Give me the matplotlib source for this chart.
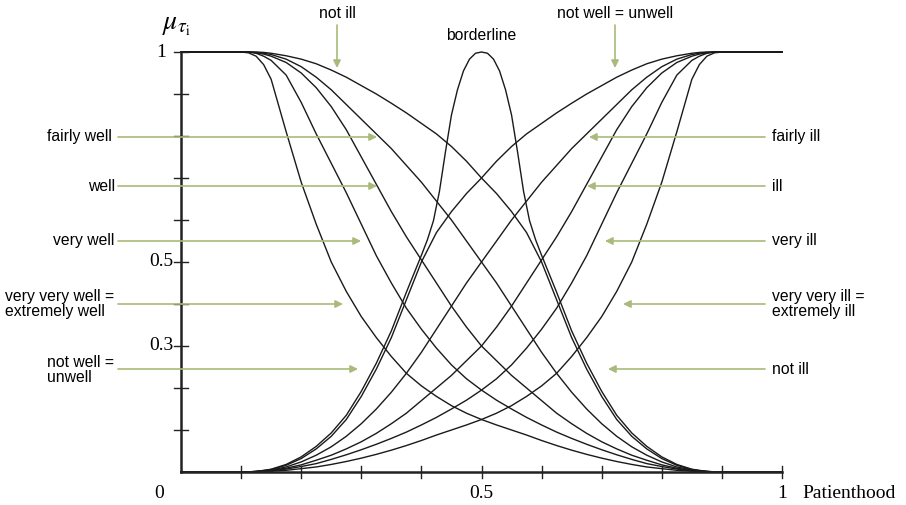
import matplotlib.pyplot as plt

# membership grades over patienthood; the "well" family mirrors the "ill" family
x_grid = [0.100, 0.1125, 0.125, 0.1375, 0.150, 0.175, 0.200, 0.225, 0.250,
          0.275, 0.300, 0.325, 0.350, 0.375, 0.400, 0.425, 0.450, 0.475,
          0.500, 0.525, 0.550, 0.575, 0.600, 0.625, 0.650, 0.675, 0.700,
          0.725, 0.750, 0.775, 0.800, 0.825, 0.850, 0.8625, 0.875, 0.8875,
          0.900]

not_well = [0.0, 0.0003, 0.0015, 0.0035, 0.006, 0.016, 0.032, 0.055, 0.085,
            0.125, 0.180, 0.245, 0.320, 0.410, 0.500, 0.570, 0.620, 0.663,
            0.700, 0.740, 0.775, 0.805, 0.830, 0.855, 0.878, 0.900, 0.920,
            0.940, 0.957, 0.972, 0.983, 0.991, 0.997, 0.999, 1.0, 1.0,
            1.0]
fairly_ill = [0.0, 0.0002, 0.001, 0.0025, 0.005, 0.012, 0.024, 0.040, 0.060,
              0.085, 0.115, 0.150, 0.190, 0.235, 0.285, 0.340, 0.395, 0.450,
              0.500, 0.550, 0.600, 0.645, 0.690, 0.730, 0.770, 0.805, 0.840,
              0.875, 0.910, 0.940, 0.965, 0.983, 0.994, 0.997, 0.999, 1.0,
              1.0]
ill = [0.0, 0.0001, 0.001, 0.002, 0.004, 0.009, 0.017, 0.028, 0.040,
       0.055, 0.072, 0.092, 0.115, 0.140, 0.170, 0.200, 0.230, 0.265,
       0.300, 0.345, 0.395, 0.450, 0.505, 0.560, 0.620, 0.685, 0.750,
       0.815, 0.870, 0.915, 0.950, 0.975, 0.990, 0.995, 0.998, 1.0,
       1.0]
very_ill = [0.0, 0.0001, 0.0005, 0.0015, 0.003, 0.007, 0.013, 0.020, 0.030,
            0.041, 0.053, 0.066, 0.080, 0.095, 0.112, 0.130, 0.150, 0.171,
            0.195, 0.222, 0.255, 0.295, 0.340, 0.390, 0.450, 0.515, 0.590,
            0.665, 0.735, 0.805, 0.880, 0.945, 0.980, 0.990, 0.997, 1.0,
            1.0]
very_very_ill = [0.0, 0.0, 0.0003, 0.001, 0.002, 0.004, 0.008, 0.012, 0.018,
                 0.025, 0.033, 0.042, 0.052, 0.063, 0.075, 0.088, 0.100, 0.112,
                 0.125, 0.140, 0.158, 0.180, 0.205, 0.235, 0.275, 0.320, 0.370,
                 0.430, 0.500, 0.590, 0.690, 0.810, 0.935, 0.970, 0.990, 0.998,
                 1.0]

# borderline hugs the not-well curve on its way up, then peaks at 0.5
border_x = [0.100, 0.1125, 0.125, 0.1375, 0.150, 0.175, 0.200, 0.225, 0.250,
            0.275, 0.300, 0.325, 0.350, 0.375, 0.400, 0.410, 0.420, 0.430,
            0.440, 0.450, 0.460, 0.470, 0.480, 0.490, 0.500]
border_y = [0.0, 0.0003, 0.0016, 0.0038, 0.0066, 0.018, 0.036, 0.061, 0.093,
            0.135, 0.192, 0.259, 0.336, 0.428, 0.516, 0.553, 0.598, 0.668,
            0.762, 0.850, 0.910, 0.955, 0.983, 0.997, 1.0]

ill_family = [not_well, fairly_ill, ill, very_ill, very_very_ill]

# (text, text left x, text y, arrow tail x, arrow tip x, arrow y)
left_labels = [
    ('fairly well', 47, 137, 118, 377, 137),
    ('well', 88, 186, 118, 377, 186),
    ('very well', 53, 241, 118, 361, 241),
    ('very very well =\nextremely well', 5, 304, 118, 343, 304),
    ('not well =\nunwell', 47, 370, 118, 358, 369),
]
right_labels = [
    ('fairly ill', 772, 137, 765, 589, 137),
    ('ill', 772, 186, 765, 587, 186),
    ('very ill', 772, 241, 765, 605, 241),
    ('very very ill =\nextremely ill', 772, 304, 765, 623, 304),
    ('not ill', 772, 369, 765, 608, 369),
]
top_labels = [
    ('not ill', 337, 13, 25, 68),
    ('not well = unwell', 615, 13, 25, 68),
]

ARROW = '#a9ba7c'
W, H = 906, 505
X0, X1, Y0, Y1 = 181, 782, 472, 52


def px(x):
    return (x - X0) / (X1 - X0)


def py(y):
    return (Y0 - y) / (Y0 - Y1)


plt.rcParams['mathtext.fontset'] = 'stix'
fig = plt.figure(figsize=(W / 100, H / 100), dpi=100)
ax = fig.add_axes([X0 / W, (H - Y0) / H, (X1 - X0) / W, (Y0 - Y1) / H])
ax.set_xlim(0, 1)
ax.set_ylim(0, 1)
ax.axis('off')

# ill family rises, well family is its mirror image
for ys in ill_family:
    ax.plot([0] + x_grid + [1], [0] + ys + [1], color='#1a1a1a', lw=1.0,
            clip_on=False)
    ax.plot([1] + [1 - v for v in x_grid] + [0], [0] + ys + [1],
            color='#1a1a1a', lw=1.0, clip_on=False)
ax.plot(border_x + [1 - v for v in border_x[::-1]],
        border_y + border_y[::-1], color='#1a1a1a', lw=1.0, clip_on=False)

# axes with crossing ticks
ax.plot([0, 1], [0, 0], color='#222222', lw=1.8, clip_on=False)
ax.plot([0, 0], [0, 1], color='#222222', lw=1.8, clip_on=False)
for t in range(1, 10):
    ax.plot([t / 10, t / 10], [-0.014, 0.014], color='#222222', lw=1.0,
            clip_on=False)
    ax.plot([-0.011, 0.011], [t / 10, t / 10], color='#222222', lw=1.0,
            clip_on=False)
ax.plot([1, 1], [-0.014, 0.014], color='#222222', lw=1.0, clip_on=False)
ax.plot([-0.011, 0.011], [1, 1], color='#222222', lw=1.0, clip_on=False)

serif = 'Liberation Serif'
sans = 'Liberation Sans'
for val, txt in [(1.0, '1'), (0.5, '0.5'), (0.3, '0.3')]:
    ax.text(px(161), val, txt, family=serif, fontsize=14, ha='center',
            va='center')
ax.text(px(159), py(493), '0', family=serif, fontsize=14, ha='center',
        va='center')
ax.text(0.5, py(493), '0.5', family=serif, fontsize=14, ha='center',
        va='center')
ax.text(1.0, py(493), '1', family=serif, fontsize=14, ha='center',
        va='center')
ax.text(px(802), py(494), 'Patienthood', family=serif, fontsize=14,
        ha='left', va='center')
ax.text(px(162), py(24), r'$\mu_{\tau_{\rm i}}$', fontsize=20, ha='left',
        va='center')

arrowprops = dict(arrowstyle='-|>', color=ARROW, lw=1.2, mutation_scale=11,
                  shrinkA=0, shrinkB=0)
for txt, tx, ty, ax0, ax1, ay in left_labels:
    ax.text(px(tx), py(ty), txt, family=sans, fontsize=11.3, ha='left',
            va='center', linespacing=1.0)
    ax.annotate('', xy=(px(ax1), py(ay)), xytext=(px(ax0), py(ay)),
                arrowprops=arrowprops, annotation_clip=False)
for txt, tx, ty, ax0, ax1, ay in right_labels:
    ax.text(px(tx), py(ty), txt, family=sans, fontsize=11.3, ha='left',
            va='center', linespacing=1.0)
    ax.annotate('', xy=(px(ax1), py(ay)), xytext=(px(ax0), py(ay)),
                arrowprops=arrowprops, annotation_clip=False)
for txt, tx, ty, y0, y1 in top_labels:
    ax.text(px(tx), py(ty), txt, family=sans, fontsize=11.3, ha='center',
            va='center')
    ax.annotate('', xy=(px(tx), py(y1)), xytext=(px(tx), py(y0)),
                arrowprops=arrowprops, annotation_clip=False)
ax.text(0.5, py(36), 'borderline', family=sans, fontsize=11.3, ha='center',
        va='center')

fig.savefig('out.png', dpi=100)
